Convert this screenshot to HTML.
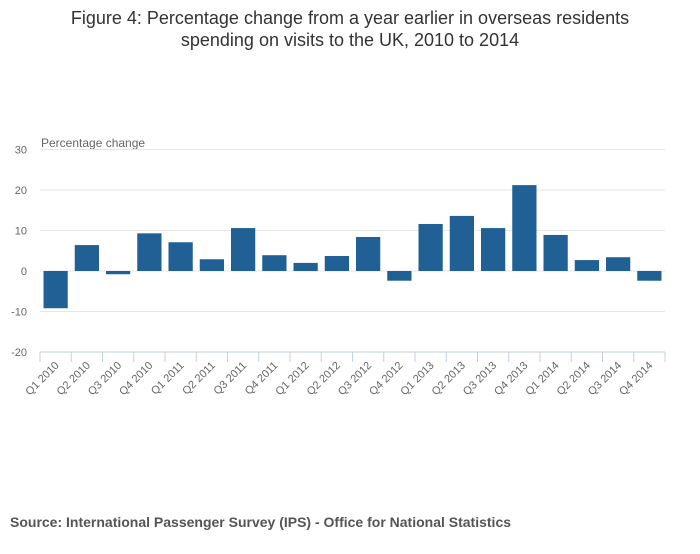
<!DOCTYPE html>
<html><head><meta charset="utf-8"><style>
body{margin:0;background:#fff;font-family:"Liberation Sans",sans-serif;}
</style></head><body>
<svg width="700" height="549" xmlns="http://www.w3.org/2000/svg">
<text x="350" y="24" text-anchor="middle" font-size="18" fill="#333">Figure 4: Percentage change from a year earlier in overseas residents</text>
<text x="350" y="46" text-anchor="middle" font-size="18" fill="#333">spending on visits to the UK, 2010 to 2014</text>
<text x="41" y="147" font-size="12" fill="#666">Percentage change</text>
<g id="grid"></g><g id="bars"></g><g id="xaxis"></g>
<text x="10" y="527" font-size="14" font-weight="bold" fill="#555">Source: International Passenger Survey (IPS) - Office for National Statistics</text>
</svg>
<script>
const categories=["Q1 2010","Q2 2010","Q3 2010","Q4 2010","Q1 2011","Q2 2011","Q3 2011","Q4 2011","Q1 2012","Q2 2012","Q3 2012","Q4 2012","Q1 2013","Q2 2013","Q3 2013","Q4 2013","Q1 2014","Q2 2014","Q3 2014","Q4 2014"];
const values=[-9.2,6.4,-0.8,9.3,7.1,2.9,10.6,3.9,2.0,3.7,8.4,-2.4,11.6,13.6,10.6,21.2,8.9,2.7,3.4,-2.4];
const yTicks=[30,20,10,0,-10,-20];
const NS="http://www.w3.org/2000/svg";
const L=40,R=665,yTop=149.5,yBot=352,vMax=30,vMin=-20;
const y=v=>yTop+(vMax-v)*(yBot-yTop)/(vMax-vMin);
const step=(R-L)/categories.length;
const x=i=>L+i*step;
function mk(t,a,p){const e=document.createElementNS(NS,t);for(const k in a)e.setAttribute(k,a[k]);p.appendChild(e);return e;}
const g=document.getElementById('grid'),b=document.getElementById('bars'),xa=document.getElementById('xaxis');
yTicks.forEach(v=>{
 if(v!==vMin){const l=mk('line',{x1:L,x2:R,y1:y(v),y2:y(v),stroke:'#e6e6e6','stroke-width':1},g);
 
 }
 const t=mk('text',{x:27,y:y(v)+4,'text-anchor':'end','font-size':11,fill:'#666'},g);t.textContent=v;
 
 
});
const ax=mk('line',{x1:L,x2:R,y1:yBot,y2:yBot,stroke:'#c0d0e0','stroke-width':1},xa);


for(let i=0;i<=categories.length;i++){mk('line',{x1:x(i),x2:x(i),y1:yBot,y2:yBot+10,stroke:'#c0d0e0'},xa);}
categories.forEach((c,i)=>{
 const v=values[i];
 const r=mk('rect',{x:x(i)+3.5,width:step-7,y:Math.min(y(v),y(0)),height:Math.abs(y(v)-y(0)),fill:'#206095'},b);
 
 
 const cx=x(i)+step/2+4;
 const t=mk('text',{x:cx,y:yBot+14,'text-anchor':'end','font-size':11,fill:'#666',transform:`rotate(-45 ${cx} ${yBot+14})`},xa);
 t.textContent=c;
 
 
});
</script>
</body></html>
